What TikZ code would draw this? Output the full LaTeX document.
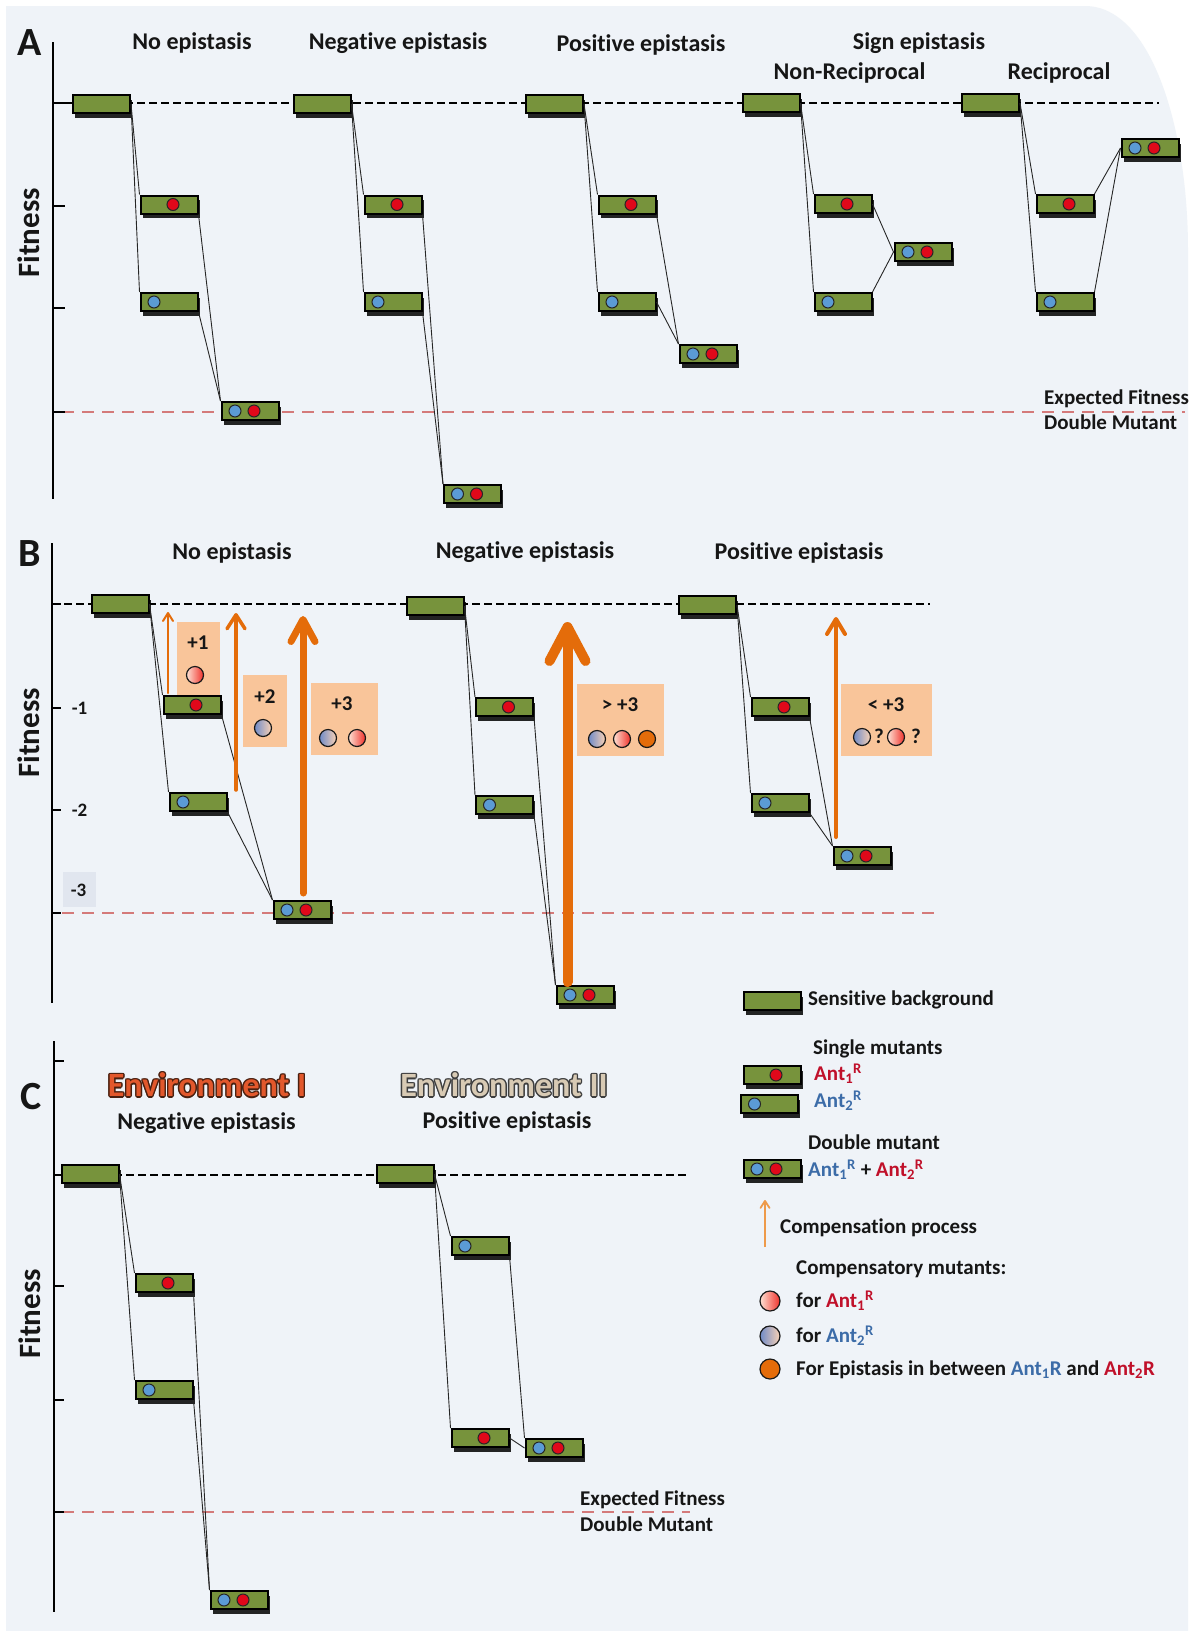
\documentclass[tikz,border=0pt]{standalone}
\usepackage{fontspec}
\setmainfont{Carlito}[Ligatures=NoCommon]
\usetikzlibrary{arrows.meta,shadows}
\definecolor{bgc}{HTML}{EFF3F8}
\definecolor{boxgreen}{HTML}{77933C}
\definecolor{dotred}{HTML}{E0081A}
\definecolor{dotblue}{HTML}{5B9BD5}
\definecolor{dashred}{HTML}{D47A7A}
\definecolor{txt}{HTML}{161616}
\definecolor{tred}{HTML}{C0102A}
\definecolor{tblue}{HTML}{3C6CA8}
\definecolor{oarr}{HTML}{E46C0A}
\definecolor{larr}{HTML}{EE9A4A}
\definecolor{peach}{HTML}{F9C59A}
\definecolor{minus3}{HTML}{E1E6EF}
\definecolor{envIf}{HTML}{E2582C}
\definecolor{envIo}{HTML}{4A2010}
\definecolor{envIIf}{HTML}{D8CAB4}
\definecolor{envIIo}{HTML}{3E3E3E}
\definecolor{gradRa}{HTML}{FDE2D4}
\definecolor{gradRb}{HTML}{F0302A}
\definecolor{gradBa}{HTML}{6F8BC8}
\definecolor{gradBb}{HTML}{FAD2B5}
\newcommand\myfs[1]{\fontsize{#1pt}{#1pt}\selectfont\bfseries}
\newcommand\antr[1]{Ant\textsubscript{#1}\textsuperscript{R}}
\newcommand\outltxt[3]{\leavevmode
 \rlap{\color{#1}\kern-1.4pt#3}\rlap{\color{#1}\kern1.4pt#3}%
 \rlap{\color{#1}\raisebox{1.4pt}{#3}}\rlap{\color{#1}\raisebox{-1.4pt}{#3}}%
 \rlap{\color{#1}\kern-1pt\raisebox{1pt}{#3}}\rlap{\color{#1}\kern1pt\raisebox{1pt}{#3}}%
 \rlap{\color{#1}\kern-1pt\raisebox{-1pt}{#3}}\rlap{\color{#1}\kern1pt\raisebox{-1pt}{#3}}%
 {\color{#2}#3}}
\newcommand\mkbase[3]{\node[gbox] (#1) at (#2,#3) {};}
\newcommand\mkred[3]{\node[gbox] (#1) at (#2,#3) {};\node[rdot] (#1-d) at ([xshift=4pt]#1.center) {};}
\newcommand\mkblue[3]{\node[gbox] (#1) at (#2,#3) {};\node[bdot] (#1-d) at ([xshift=-15pt]#1.center) {};}
\newcommand\mkdbl[3]{\node[gbox] (#1) at (#2,#3) {};\node[bdot] (#1-d1) at ([xshift=-15pt]#1.center) {};\node[rdot] (#1-d2) at ([xshift=4pt]#1.center) {};}
\begin{document}
\begin{tikzpicture}[x=1pt,y=-1pt,
  gbox/.style={draw=black,line width=2pt,fill=boxgreen,minimum width=57pt,minimum height=18pt,inner sep=0pt,
    drop shadow={shadow xshift=2pt,shadow yshift=-4.5pt,fill=black,opacity=0.85}},
  rdot/.style={circle,draw=black!85,line width=1pt,fill=dotred,minimum size=12pt,inner sep=0pt},
  bdot/.style={circle,draw=black!85,line width=1pt,fill=dotblue,minimum size=12pt,inner sep=0pt},
  conn/.style={line width=0.9pt,draw=black!85},
  bdash/.style={dash pattern=on 8pt off 4pt,line width=2.8pt,draw=black},
  rdash/.style={dash pattern=on 12pt off 8pt,line width=2.8pt,draw=dashred},
  axisl/.style={line width=2.8pt,draw=black},
  tickl/.style={line width=1.6pt,draw=black},
  lbl/.style={inner sep=0pt,text=txt,text depth=0pt},
  ttl/.style={lbl,font=\myfs{24},text height=15.4pt},
  panel/.style={lbl,font=\myfs{40},text height=25.6pt},
  fit/.style={lbl,font=\myfs{31},rotate=90,text height=19.9pt},
  leg/.style={lbl,font=\myfs{21},anchor=west,text height=13.5pt},
  small/.style={lbl,font=\myfs{21},text height=13.5pt},
  tiny/.style={lbl,font=\myfs{19},text height=12.2pt},
  envt/.style={lbl,font=\myfs{34},text height=21.9pt},
  peachb/.style={fill=peach},
  cr/.style={circle,draw=black!90,line width=1.2pt,minimum size=17pt,inner sep=0pt,left color=gradRa,right color=gradRb},
  cb/.style={circle,draw=black!90,line width=1.2pt,minimum size=17pt,inner sep=0pt,left color=gradBa,right color=gradBb},
  co/.style={circle,draw=black!90,line width=1.2pt,minimum size=17pt,inner sep=0pt,fill=oarr},
  oarrow/.style={draw=oarr,line cap=round}
]
\useasboundingbox (0,0) rectangle (1202,1631);
\fill[white] (0,0) rectangle (1202,1631);
\fill[bgc] (6,1631) -- (6,6) -- (1085,6) .. controls (1152,6) and (1188,130) .. (1188,250) -- (1188,1631) -- cycle;

% ================= PANEL A =================
\draw[bdash] (53,103) -- (1159,103);
\draw[rdash] (62,412) -- (1185,412);
\draw[axisl] (53,42) -- (53,499);
\foreach \yy in {103,206,308,412} \draw[tickl] (53,\yy) -- (65,\yy);
\node[panel] (lA) at (30,43) {A};
\node[fit] (fA) at (30,233) {Fitness};
\node[ttl] (tA1) at (192,42) {No epistasis};
\node[ttl] (tA2) at (398,42) {Negative epistasis};
\node[ttl] (tA3) at (641,44) {Positive epistasis};
\node[ttl] (tA4) at (919,42) {Sign epistasis};
\node[ttl] (tA5) at (849.5,72) {Non-Reciprocal};
\node[ttl] (tA6) at (1059,72) {Reciprocal};
\node[leg] (eA1) at (1044,398) {Expected Fitness};
\node[leg] (eA2) at (1044,423) {Double Mutant};

\mkbase{a1}{101.5}{104}
\mkred{a1r}{169}{204.5}
\mkblue{a1b}{169}{302}
\mkdbl{a1d}{250}{411}
\mkbase{a2}{322}{104}
\mkred{a2r}{393}{204.5}
\mkblue{a2b}{393}{302}
\mkdbl{a2d}{472.5}{494}
\mkbase{a3}{554.5}{104}
\mkred{a3r}{627}{204.5}
\mkblue{a3b}{627}{302}
\mkdbl{a3d}{708}{354}
\mkbase{a4}{771}{103}
\mkred{a4r}{843}{204}
\mkblue{a4b}{843}{302}
\mkdbl{a4d}{923}{252}
\mkbase{a5}{990.5}{103}
\mkred{a5r}{1065}{204}
\mkblue{a5b}{1065}{302}
\mkdbl{a5d}{1150}{148}

\foreach \c in {a1,a2,a3,a4,a5}{
  \draw[conn] (\c.east) -- (\c r.north west);
  \draw[conn] (\c.east) -- (\c b.north west);
}
\draw[conn] (a1r.south east) -- (a1d.north west);
\draw[conn] (a1b.south east) -- (a1d.north west);
\draw[conn] (a2r.south east) -- (a2d.north west);
\draw[conn] (a2b.south east) -- (a2d.north west);
\draw[conn] (a3r.south east) -- (a3d.north west);
\draw[conn] (a3b.east) -- (a3d.north west);
\draw[conn] (a4r.east) -- (a4d.west);
\draw[conn] (a4b.north east) -- (a4d.west);
\draw[conn] (a5r.north east) -- (a5d.west);
\draw[conn] (a5b.north east) -- (a5d.west);

% ================= PANEL B =================
\fill[minus3] (63,872) rectangle (96,907);
\draw[bdash] (52,604) -- (930,604);
\draw[rdash] (62,913) -- (935,913);
\draw[axisl] (52,543) -- (52,1003);
\foreach \yy in {604,708,810,913} \draw[tickl] (52,\yy) -- (61,\yy);
\node[panel] (lB) at (30,554) {B};
\node[fit] (fB) at (30,733) {Fitness};
\node[tiny] (m1) at (79.5,708) {-1};
\node[tiny] (m2) at (79.5,810) {-2};
\node[tiny] (m3) at (78.5,890) {-3};
\node[ttl] (tB1) at (232,552) {No epistasis};
\node[ttl] (tB2) at (525,551) {Negative epistasis};
\node[ttl] (tB3) at (799,552) {Positive epistasis};

\mkbase{b1}{120}{604}
\mkred{b1r}{192}{705}
\mkblue{b1b}{198}{802}
\mkdbl{b1d}{302}{910}
\mkbase{b2}{435}{606}
\mkred{b2r}{504.5}{707}
\mkblue{b2b}{504.5}{805}
\mkdbl{b2d}{585}{995}
\mkbase{b3}{707.5}{605}
\mkred{b3r}{780}{707}
\mkblue{b3b}{780}{803}
\mkdbl{b3d}{862}{856}
\foreach \c in {b1,b2,b3}{
  \draw[conn] (\c.east) -- (\c r.north west);
  \draw[conn] (\c.east) -- (\c b.north west);
  \draw[conn] (\c r.south east) -- (\c d.north west);
  \draw[conn] (\c b.south east) -- (\c d.north west);
}

% compensation boxes
\fill[peachb] (177,622) rectangle (220,695);
\fill[peachb] (243,675) rectangle (287,747);
\fill[peachb] (311,683) rectangle (378,755);
\fill[peachb] (577,684) rectangle (664,756);
\fill[peachb] (841,684) rectangle (932,756);
\node[small] (p1) at (198,643) {+1};
\node[small] (p2) at (265,697) {+2};
\node[small] (p3) at (342,704) {+3};
\node[small] (p4) at (620,705) {> +3};
\node[small] (p5) at (886,705) {< +3};
\node[cr] (k1) at (195,675) {};
\node[cb] (k2) at (263,728) {};
\node[cb] (k3) at (328,738) {};
\node[cr] (k4) at (357,738) {};
\node[cb] (k5) at (597,739) {};
\node[cr] (k6) at (622,739) {};
\node[co] (k7) at (647,739) {};
\node[cb] (k8) at (862,737) {};
\node[small] (q1) at (879,737) {?};
\node[cr] (k9) at (896,737) {};
\node[small] (q2) at (916,737) {?};

% arrows
\coordinate (r1s) at (168,693); \coordinate (r1e) at (168,612);
\coordinate (r2s) at (236,790); \coordinate (r2e) at (236,613);
\coordinate (r3s) at (303,893); \coordinate (r3e) at (303,616);
\coordinate (r4s) at (567.5,982); \coordinate (r4e) at (567.5,622);
\coordinate (r5s) at (836,837); \coordinate (r5e) at (836,617);
\draw[oarrow,line width=2pt,-{Straight Barb[length=8pt,width=10pt,round]}] (r1s) -- (r1e);
\draw[oarrow,line width=3.5pt,-{Straight Barb[length=14pt,width=18pt,round]}] (r2s) -- (r2e);
\draw[oarrow,line width=7pt,-{Straight Barb[length=22pt,width=24pt,round]}] (r3s) -- (r3e);
\draw[oarrow,line width=10pt,-{Straight Barb[length=34pt,width=36pt,round]}] (r4s) -- (r4e);
\draw[oarrow,line width=4pt,-{Straight Barb[length=15pt,width=18pt,round]}] (r5s) -- (r5e);

% ================= LEGEND =================
\mkbase{g1}{772}{1001}
\node[leg] (gt1) at (808,999) {Sensitive background};
\node[leg] (gt2) at (813,1048) {Single mutants};
\mkred{g2}{772}{1075}
\node[leg] (gt3) at (814,1074) {\textcolor{tred}{\antr{1}}};
\mkblue{g3}{769.5}{1104}
\node[leg] (gt4) at (814,1101) {\textcolor{tblue}{\antr{2}}};
\node[leg] (gt5) at (808,1143) {Double mutant};
\mkdbl{g4}{772}{1169}
\node[leg] (gt6) at (808,1170) {\textcolor{tblue}{\antr{1}} + \textcolor{tred}{\antr{2}}};
\coordinate (la1) at (765,1247); \coordinate (la2) at (765,1200);
\draw[draw=larr,line width=1.8pt,-{Straight Barb[length=7pt,width=9pt,round]}] (la1) -- (la2);
\node[leg] (gt7) at (780,1227) {Compensation process};
\node[leg] (gt8) at (796,1268) {Compensatory mutants:};
\node[cr,minimum size=20pt] (gc1) at (770,1301) {};
\node[leg] (gt9) at (796,1301) {for \textcolor{tred}{\antr{1}}};
\node[cb,minimum size=20pt] (gc2) at (770,1336) {};
\node[leg] (gt10) at (796,1336) {for \textcolor{tblue}{\antr{2}}};
\node[co,minimum size=20pt] (gc3) at (770,1369) {};
\node[leg] (gt11) at (796,1369) {For Epistasis in between \textcolor{tblue}{Ant\textsubscript{1}R} and \textcolor{tred}{Ant\textsubscript{2}R}};

% ================= PANEL C =================
\draw[bdash] (54,1175) -- (686,1175);
\draw[rdash] (62,1512) -- (690,1512);
\draw[axisl] (54,1041) -- (54,1612);
\foreach \yy in {1061,1175,1286,1400,1512} \draw[tickl] (54,\yy) -- (64,\yy);
\node[panel] (lC) at (31,1097) {C};
\node[fit] (fC) at (31,1314) {Fitness};
\node[envt] (env1) at (207,1086) {\outltxt{envIo}{envIf}{Environment I}};
\node[envt] (env2) at (504,1086) {\outltxt{envIIo}{envIIf}{Environment II}};
\node[ttl] (tC1) at (206.5,1122) {Negative epistasis};
\node[ttl] (tC2) at (507,1121) {Positive epistasis};
\node[leg] (eC1) at (580,1499) {Expected Fitness};
\node[leg] (eC2) at (580,1525) {Double Mutant};

\mkbase{c1}{90}{1174}
\mkred{c1r}{164}{1283}
\mkblue{c1b}{164}{1390}
\mkdbl{c1d}{239}{1600}
\mkbase{c2}{405}{1174}
\mkblue{c2b}{480}{1246}
\mkred{c2r}{480}{1438}
\mkdbl{c2d}{554}{1448}
\draw[conn] (c1.east) -- (c1r.north west);
\draw[conn] (c1.east) -- (c1b.north west);
\draw[conn] (c1r.south east) -- (c1d.north west);
\draw[conn] (c1b.south east) -- (c1d.north west);
\draw[conn] (c2.east) -- (c2b.north west);
\draw[conn] (c2.east) -- (c2r.north west);
\draw[conn] (c2b.south east) -- (c2d.north west);
\draw[conn] (c2r.east) -- (c2d.west);
\end{tikzpicture}
\end{document}
